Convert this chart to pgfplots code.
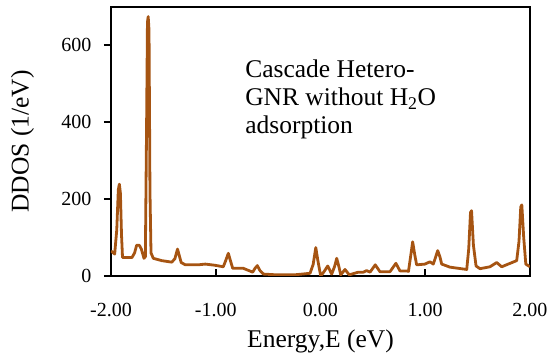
\documentclass[border=0pt]{standalone}
\usepackage{pgfplots}
\pgfplotsset{compat=1.18}
\usepackage{fontspec}
\setmainfont{Liberation Serif}
\definecolor{ddos}{RGB}{166,84,18}
\begin{document}
\begin{tikzpicture}
\begin{axis}[
  scale only axis,
  width=419pt, height=269pt,
  xmin=-2, xmax=2, ymin=0, ymax=700,
  axis line style={line width=2.5pt},
  xtick={-2,-1,0,1,2},
  xticklabels={-2.00,-1.00,0.00,1.00,2.00},
  ytick={0,200,400,600},
  yticklabels={0,200,400,600},
  xtick pos=left, ytick pos=left,
  tick align=inside,
  major tick length=7pt,
  tick style={line width=2pt, black},
  ytick style={xshift=-7pt},
  ticklabel style={font=\fontsize{20}{24}\selectfont},
  yticklabel style={xshift=-16pt},
  xticklabel style={yshift=-24pt},
  xlabel={Energy,E (eV)},
  ylabel={DDOS (1/eV)},
  label style={font=\fontsize{25.5}{28}\selectfont},
  xlabel style={at={(axis description cs:0.5,-0.245)}, anchor=center},
  ylabel style={at={(axis description cs:-0.211,0.5)}, anchor=center},
  clip=true,
]
\addplot[color=ddos, line width=2.8pt, line join=round] coordinates {
(-2.00,65) (-1.985,62) (-1.965,57) (-1.945,120) (-1.93,225) (-1.92,239) (-1.91,215) (-1.90,110) (-1.89,48)
(-1.80,48) (-1.775,60) (-1.755,80) (-1.73,80) (-1.71,70) (-1.685,46) (-1.672,50)
(-1.66,400) (-1.652,660) (-1.645,675) (-1.637,640) (-1.628,220) (-1.618,60) (-1.596,46)
(-1.516,40) (-1.42,36) (-1.39,45) (-1.365,70) (-1.345,50) (-1.33,35) (-1.29,29)
(-1.17,29) (-1.10,31) (-1.01,28) (-0.928,24) (-0.905,40) (-0.88,59) (-0.86,40) (-0.838,20)
(-0.737,20) (-0.647,10) (-0.625,20) (-0.603,27) (-0.58,15) (-0.546,5)
(-0.418,3) (-0.25,3) (-0.10,7) (-0.07,30) (-0.045,74) (-0.025,40) (0.002,0)
(0.033,11) (0.069,26) (0.107,5) (0.135,25) (0.155,46) (0.175,25) (0.193,3)
(0.234,17) (0.275,3) (0.361,10) (0.41,10) (0.44,14) (0.473,10) (0.523,29)
(0.568,11) (0.663,11) (0.72,33) (0.759,13) (0.823,13) (0.84,12) (0.86,50) (0.88,89)
(0.90,55) (0.918,29) (0.998,31) (1.045,37) (1.077,31) (1.10,50) (1.119,66) (1.14,50) (1.157,31)
(1.236,23) (1.396,17) (1.415,70) (1.432,165) (1.442,170) (1.46,80) (1.485,26) (1.523,19)
(1.618,24) (1.682,35) (1.73,24) (1.873,40) (1.895,90) (1.912,180) (1.922,185) (1.94,100) (1.96,31) (2.0,24)
};
\node[anchor=north west, align=left, font=\fontsize{25.5}{28}\selectfont, inner sep=0pt]
  at (axis cs:-0.72,562) {Cascade Hetero-\\GNR without H\textsubscript{2}O\\adsorption};
\end{axis}
\pgfresetboundingbox
\path (current axis.south west) ++(-111pt,-87pt) rectangle ++(550pt,363pt);
\end{tikzpicture}
\end{document}
